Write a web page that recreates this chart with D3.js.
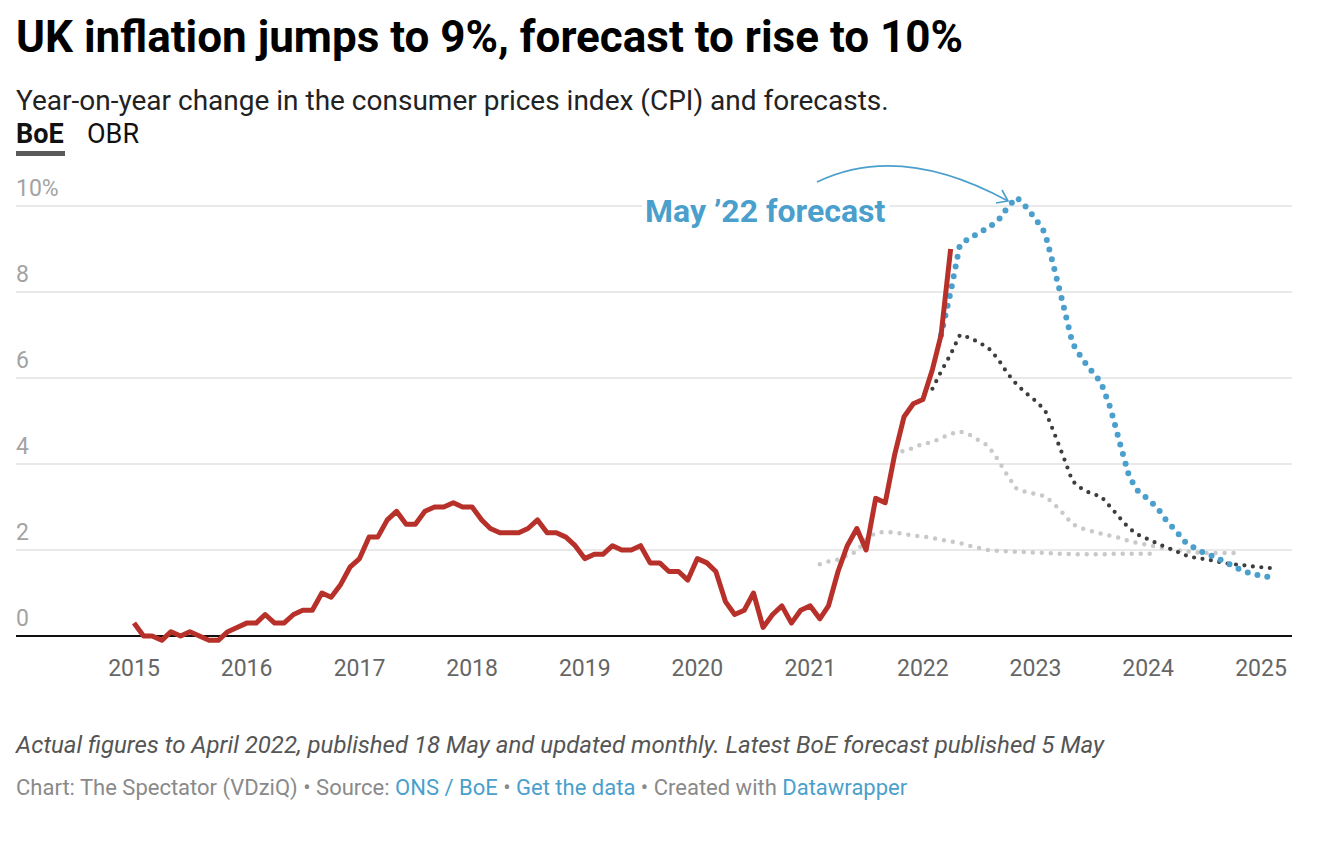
<!DOCTYPE html>
<html>
<head>
<meta charset="utf-8">
<script src="https://cdn.jsdelivr.net/npm/d3@7"></script>
<style>
  body { margin: 0; background: #fff; }
  svg { font-family: Roboto, "Noto Sans", sans-serif; }
</style>
</head>
<body>
<div id="chart"></div>
<script>
// data (monthly, % year on year)
var actualStart = "2015-01";
var actualCpi = [
  0.3, 0.0, 0.0, -0.1, 0.1, 0.0, 0.1, 0.0, -0.1, -0.1, 0.1, 0.2,
  0.3, 0.3, 0.5, 0.3, 0.3, 0.5, 0.6, 0.6, 1.0, 0.9, 1.2, 1.6,
  1.8, 2.3, 2.3, 2.7, 2.9, 2.6, 2.6, 2.9, 3.0, 3.0, 3.1, 3.0,
  3.0, 2.7, 2.5, 2.4, 2.4, 2.4, 2.5, 2.7, 2.4, 2.4, 2.3, 2.1,
  1.8, 1.9, 1.9, 2.1, 2.0, 2.0, 2.1, 1.7, 1.7, 1.5, 1.5, 1.3,
  1.8, 1.7, 1.5, 0.8, 0.5, 0.6, 1.0, 0.2, 0.5, 0.7, 0.3, 0.6,
  0.7, 0.4, 0.7, 1.5, 2.1, 2.5, 2.0, 3.2, 3.1, 4.2, 5.1, 5.4,
  5.5, 6.2, 7.0, 9.0
];

// latest BoE forecast (May '22)
var mayStart = "2022-03";
var mayForecast = [
  7.0, 8.0, 9.1, 9.25, 9.37, 9.5, 9.65, 9.95, 10.2, 9.98,
  9.7, 9.37, 8.6, 7.7, 6.81, 6.45, 6.17, 5.9, 5.3, 4.5, 3.7, 3.35,
  3.19, 2.97, 2.68, 2.44, 2.18, 2.04, 1.93, 1.85, 1.74, 1.63, 1.52, 1.45,
  1.4, 1.37
];

// previous BoE forecast
var febStart = "2022-02";
var febForecast = [
  5.75, 6.15, 6.55, 7.0, 6.94, 6.83, 6.7, 6.45, 6.12, 5.85, 5.65,
  5.47, 5.25, 4.75, 4.18, 3.6, 3.42, 3.31, 3.25, 3.0, 2.75, 2.5, 2.35,
  2.25, 2.15, 2.06, 1.97, 1.88, 1.82, 1.79, 1.75, 1.7, 1.67, 1.65, 1.62,
  1.6, 1.58
];

// older forecasts (light grey)
var novStart = "2021-10";
var novForecast = [
  4.2, 4.32, 4.37,
  4.47, 4.51, 4.6, 4.7, 4.76, 4.68, 4.55, 4.42, 4.1, 3.75, 3.42, 3.35,
  3.3, 3.25, 3.08, 2.85, 2.6, 2.5, 2.44, 2.38, 2.33, 2.28, 2.21, 2.16,
  2.12, 2.07, 2.03, 2.0, 1.97, 1.95, 1.93, 1.93, 1.93, 1.93, 1.93
];
var augStart = "2021-02";
var augForecast = [
  1.67, 1.73, 1.78, 1.87, 1.97, 2.25, 2.4, 2.42, 2.41, 2.37, 2.34,
  2.31, 2.28, 2.24, 2.2, 2.16, 2.1, 2.05, 2.0, 1.98, 1.97, 1.96, 1.95,
  1.94, 1.93, 1.92, 1.91, 1.9, 1.9, 1.9, 1.9, 1.91, 1.91, 1.91, 1.91,
  1.91, 1.91
];

var yTicks = [0, 2, 4, 6, 8, 10];
var xYears = [2015, 2016, 2017, 2018, 2019, 2020, 2021, 2022, 2023, 2024, 2025];

var W = 1330, H = 848;
var left = 16, right = 1292;

var parseMonth = d3.timeParse("%Y-%m");

// turn a start month + values into {date, value} rows
function toRows(start, values) {
  var d0 = parseMonth(start);
  return values.map(function (v, i) {
    return {date: d3.timeMonth.offset(d0, i), value: v};
  });
}

var svg = d3.select("#chart")
  .append("svg")
  .attr("width", W)
  .attr("height", H);

// titles
svg.append("text")
  .attr("x", left).attr("y", 52)
  .style("font-size", "44px").style("font-weight", 700).style("fill", "#000")
  .text("UK inflation jumps to 9%, forecast to rise to 10%");

svg.append("text")
  .attr("x", left).attr("y", 110)
  .style("font-size", "28px").style("fill", "#222")
  .text("Year-on-year change in the consumer prices index (CPI) and forecasts.");

// tabs
svg.append("text")
  .attr("x", left).attr("y", 143)
  .style("font-size", "27px").style("font-weight", 700).style("fill", "#111")
  .text("BoE");
svg.append("text")
  .attr("x", 87).attr("y", 143)
  .style("font-size", "27px").style("fill", "#111")
  .text("OBR");
svg.append("rect")
  .attr("x", left).attr("y", 151)
  .attr("width", 49).attr("height", 5)
  .style("fill", "#5a5a5a");

// scales
var x = d3.scaleTime()
  .domain([new Date(2015, 0, 1), new Date(2025, 0, 1)])
  .range([134, 1261]);

var y = d3.scaleLinear()
  .domain([0, 10])
  .range([636, 206]);

// gridlines + y labels
var grid = svg.append("g");
grid.selectAll("line")
  .data(yTicks.filter(function (d) { return d > 0; }))
  .enter().append("line")
  .attr("x1", left).attr("x2", right)
  .attr("y1", function (d) { return y(d); })
  .attr("y2", function (d) { return y(d); })
  .style("stroke", "#e2e2e2")
  .style("stroke-width", 1.5);

grid.selectAll("text")
  .data(yTicks)
  .enter().append("text")
  .attr("x", left)
  .attr("y", function (d) { return y(d) - 10; })
  .style("font-size", "23px")
  .style("fill", "#a3a3a3")
  .text(function (d) { return d === 10 ? "10%" : d; });

// x labels
var xAxis = svg.append("g");
xAxis.selectAll("text")
  .data(xYears)
  .enter().append("text")
  .attr("x", function (d) { return x(new Date(d, 0, 1)); })
  .attr("y", 676)
  .attr("text-anchor", "middle")
  .style("font-size", "23px")
  .style("fill", "#666")
  .text(function (d) { return d; });

var line = d3.line()
  .x(function (d) { return x(d.date); })
  .y(function (d) { return y(d.value); });

// forecasts, drawn as dots
function dotted(rows, color, width, gap) {
  svg.append("path")
    .datum(rows)
    .attr("d", line)
    .style("fill", "none")
    .style("stroke", color)
    .style("stroke-width", width)
    .style("stroke-linecap", "round")
    .style("stroke-linejoin", "round")
    .style("stroke-dasharray", "0," + gap);
}

dotted(toRows(augStart, augForecast), "#c9c9c9", 4.5, 9);
dotted(toRows(novStart, novForecast), "#c9c9c9", 4.5, 9);
dotted(toRows(febStart, febForecast), "#3d3d3d", 4.2, 8.5);
dotted(toRows(mayStart, mayForecast), "#4a9fcc", 6, 10);

// zero baseline
svg.append("line")
  .attr("x1", left).attr("x2", right)
  .attr("y1", y(0)).attr("y2", y(0))
  .style("stroke", "#111")
  .style("stroke-width", 2);

// actual CPI
svg.append("path")
  .datum(toRows(actualStart, actualCpi))
  .attr("d", line)
  .style("fill", "none")
  .style("stroke", "#b7312a")
  .style("stroke-width", 5)
  .style("stroke-linejoin", "round");

// annotation
svg.append("text")
  .attr("x", 645).attr("y", 222)
  .style("font-size", "32px").style("font-weight", 700)
  .style("fill", "#4a9fcc")
  .style("stroke", "#fff").style("stroke-width", 10)
  .style("paint-order", "stroke")
  .text("May \u201922 forecast");

svg.append("path")
  .attr("d", "M817,182 Q900,142 1008,201")
  .style("fill", "none")
  .style("stroke", "#4a9fcc")
  .style("stroke-width", 1.6);
svg.append("path")
  .attr("d", "M996,203 L1008,201 L1002,190")
  .style("fill", "none")
  .style("stroke", "#4a9fcc")
  .style("stroke-width", 1.6);

// notes
svg.append("text")
  .attr("x", left).attr("y", 753)
  .style("font-size", "24px").style("font-style", "italic")
  .style("fill", "#555")
  .text("Actual figures to April 2022, published 18 May and updated monthly. Latest BoE forecast published 5 May");

var credit = svg.append("text")
  .attr("x", left).attr("y", 795)
  .style("font-size", "22px")
  .style("fill", "#8a8a8a");
credit.append("tspan").text("Chart: The Spectator (VDziQ) \u2022 Source: ");
credit.append("tspan").style("fill", "#4a9fcc").text("ONS / BoE");
credit.append("tspan").text(" \u2022 ");
credit.append("tspan").style("fill", "#4a9fcc").text("Get the data");
credit.append("tspan").text(" \u2022 Created with ");
credit.append("tspan").style("fill", "#4a9fcc").text("Datawrapper");
</script>
</body>
</html>
